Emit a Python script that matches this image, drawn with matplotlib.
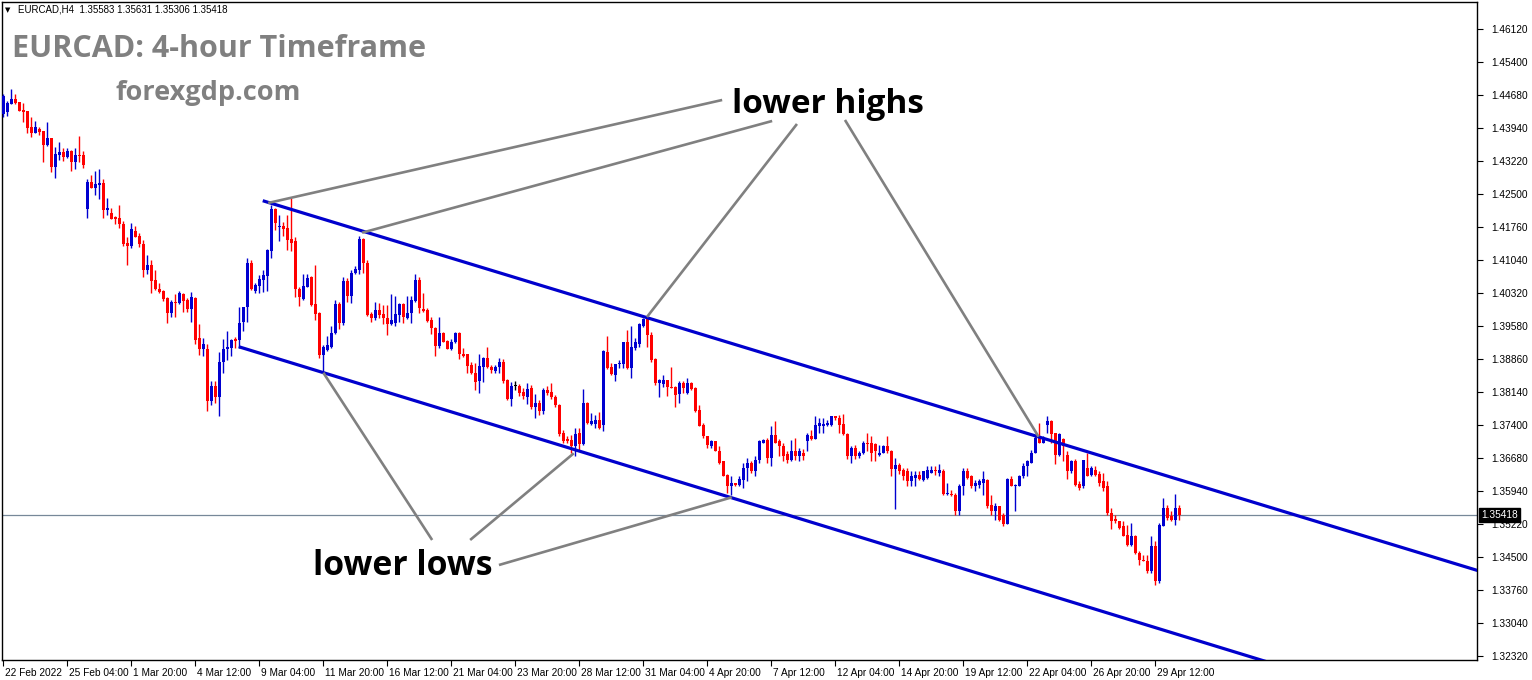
import numpy as np
import matplotlib
matplotlib.use("Agg")
import matplotlib.pyplot as plt
from matplotlib import transforms

# ---------------- data (EURCAD H4, 22 Feb 2022 12:00 .. 29 Apr 2022) ----------------
opens = [
    1.4425, 1.4430, 1.4447, 1.4458, 1.4452, 1.4434, 1.4432, 1.4397, 1.4383, 1.4392,
    1.4388, 1.4357, 1.4372, 1.4309, 1.4335, 1.4342, 1.4331, 1.4344, 1.4320, 1.4335,
    1.4335, 1.4216, 1.4276, 1.4262, 1.4269, 1.4273, 1.4214, 1.4207, 1.4199, 1.4196,
    1.4183, 1.4141, 1.4135, 1.4168, 1.4157, 1.4139, 1.4082, 1.4093, 1.4060, 1.4040,
    1.4036, 1.4020, 1.3987, 1.4012, 1.4009, 1.4029, 1.4016, 1.3996, 1.4020, 1.3932,
    1.3908, 1.3908, 1.3794, 1.3827, 1.3803, 1.3880, 1.3908, 1.3910, 1.3930, 1.3928,
    1.3968, 1.4001, 1.4097, 1.4036, 1.4047, 1.4060, 1.4069, 1.4124, 1.4216, 1.4177,
    1.4179, 1.4174, 1.4150, 1.4146, 1.4040, 1.4018, 1.4045, 1.4067, 1.4007, 1.3987,
    1.3895, 1.3906, 1.3913, 1.3943, 1.4007, 1.3965, 1.4058, 1.4025, 1.4075, 1.4082,
    1.4150, 1.4097, 1.3985, 1.3976, 1.3994, 1.3985, 1.3976, 1.3963, 1.3965, 1.3983,
    1.4007, 1.3976, 1.3987, 1.4014, 1.4060, 1.3996, 1.3994, 1.3972, 1.3954, 1.3915,
    1.3943, 1.3926, 1.3908, 1.3924, 1.3943, 1.3897, 1.3897, 1.3873, 1.3855, 1.3838,
    1.3869, 1.3888, 1.3869, 1.3860, 1.3869, 1.3880, 1.3840, 1.3798, 1.3827, 1.3827,
    1.3814, 1.3803, 1.3822, 1.3781, 1.3789, 1.3772, 1.3818, 1.3814, 1.3803, 1.3785,
    1.3723, 1.3710, 1.3708, 1.3693, 1.3723, 1.3699, 1.3789, 1.3743, 1.3743, 1.3752,
    1.3741, 1.3902, 1.3869, 1.3851, 1.3875, 1.3875, 1.3924, 1.3866, 1.3910, 1.3919,
    1.3959, 1.3974, 1.3939, 1.3886, 1.3833, 1.3831, 1.3840, 1.3825, 1.3825, 1.3809,
    1.3833, 1.3811, 1.3833, 1.3822, 1.3774, 1.3741, 1.3715, 1.3693, 1.3706, 1.3684,
    1.3660, 1.3631, 1.3605, 1.3613, 1.3609, 1.3620, 1.3646, 1.3657, 1.3638, 1.3664,
    1.3701, 1.3708, 1.3668, 1.3719, 1.3704, 1.3693, 1.3677, 1.3664, 1.3684, 1.3671,
    1.3679, 1.3706, 1.3717, 1.3710, 1.3739, 1.3737, 1.3741, 1.3741, 1.3759, 1.3756,
    1.3743, 1.3721, 1.3671, 1.3690, 1.3671, 1.3679, 1.3701, 1.3701, 1.3699, 1.3675,
    1.3679, 1.3695, 1.3684, 1.3644, 1.3653, 1.3642, 1.3640, 1.3618, 1.3624, 1.3631,
    1.3620, 1.3624, 1.3635, 1.3642, 1.3635, 1.3640, 1.3589, 1.3589, 1.3587, 1.3550,
    1.3605, 1.3638, 1.3627, 1.3607, 1.3609, 1.3613, 1.3620, 1.3565, 1.3552, 1.3561,
    1.3543, 1.3523, 1.3622, 1.3607, 1.3607, 1.3627, 1.3649, 1.3657, 1.3679, 1.3712,
    1.3701, 1.3741, 1.3748, 1.3723, 1.3675, 1.3710, 1.3675, 1.3638, 1.3662, 1.3611,
    1.3605, 1.3646, 1.3631, 1.3642, 1.3633, 1.3616, 1.3605, 1.3547, 1.3534, 1.3530,
    1.3517, 1.3499, 1.3477, 1.3495, 1.3459, 1.3444, 1.3442, 1.3418, 1.3475, 1.3396,
    1.3519, 1.3558, 1.3541, 1.3532, 1.35583,
]
highs = [
    1.4469, 1.4454, 1.4480, 1.4469, 1.4452, 1.4449, 1.4432, 1.4419, 1.4410, 1.4397,
    1.4388, 1.4408, 1.4372, 1.4353, 1.4364, 1.4350, 1.4350, 1.4346, 1.4350, 1.4377,
    1.4344, 1.4282, 1.4291, 1.4300, 1.4304, 1.4282, 1.4240, 1.4218, 1.4201, 1.4225,
    1.4190, 1.4155, 1.4185, 1.4179, 1.4163, 1.4148, 1.4115, 1.4104, 1.4082, 1.4053,
    1.4038, 1.4023, 1.4016, 1.4029, 1.4036, 1.4031, 1.4020, 1.4034, 1.4023, 1.3963,
    1.3932, 1.3919, 1.3838, 1.3838, 1.3902, 1.3930, 1.3948, 1.3930, 1.3935, 1.4001,
    1.4001, 1.4108, 1.4104, 1.4053, 1.4071, 1.4082, 1.4128, 1.4225, 1.4218, 1.4203,
    1.4188, 1.4203, 1.4240, 1.4155, 1.4045, 1.4073, 1.4073, 1.4069, 1.4093, 1.3990,
    1.3917, 1.3937, 1.3959, 1.4016, 1.4012, 1.4067, 1.4064, 1.4082, 1.4091, 1.4157,
    1.4152, 1.4104, 1.3990, 1.4012, 1.4009, 1.4005, 1.4005, 1.4029, 1.4025, 1.4009,
    1.4009, 1.4025, 1.4025, 1.4073, 1.4067, 1.4031, 1.3998, 1.3979, 1.3957, 1.3979,
    1.3946, 1.3928, 1.3930, 1.3946, 1.3946, 1.3910, 1.3897, 1.3880, 1.3877, 1.3897,
    1.3891, 1.3913, 1.3873, 1.3873, 1.3888, 1.3886, 1.3842, 1.3836, 1.3838, 1.3831,
    1.3822, 1.3833, 1.3829, 1.3809, 1.3796, 1.3822, 1.3827, 1.3833, 1.3807, 1.3787,
    1.3730, 1.3717, 1.3719, 1.3734, 1.3734, 1.3820, 1.3792, 1.3767, 1.3763, 1.3770,
    1.3906, 1.3937, 1.3877, 1.3875, 1.3884, 1.3924, 1.3950, 1.3959, 1.3932, 1.3965,
    1.3976, 1.3976, 1.3946, 1.3888, 1.3842, 1.3851, 1.3840, 1.3869, 1.3827, 1.3838,
    1.3838, 1.3844, 1.3836, 1.3825, 1.3785, 1.3745, 1.3715, 1.3708, 1.3706, 1.3693,
    1.3662, 1.3633, 1.3627, 1.3613, 1.3627, 1.3657, 1.3668, 1.3662, 1.3671, 1.3708,
    1.3710, 1.3712, 1.3737, 1.3750, 1.3710, 1.3701, 1.3682, 1.3708, 1.3712, 1.3690,
    1.3688, 1.3723, 1.3730, 1.3761, 1.3756, 1.3756, 1.3752, 1.3761, 1.3761, 1.3763,
    1.3765, 1.3723, 1.3693, 1.3697, 1.3682, 1.3704, 1.3723, 1.3715, 1.3701, 1.3697,
    1.3697, 1.3715, 1.3686, 1.3668, 1.3657, 1.3646, 1.3646, 1.3638, 1.3638, 1.3638,
    1.3640, 1.3649, 1.3651, 1.3649, 1.3655, 1.3644, 1.3613, 1.3598, 1.3591, 1.3611,
    1.3646, 1.3646, 1.3631, 1.3620, 1.3622, 1.3638, 1.3622, 1.3587, 1.3569, 1.3563,
    1.3547, 1.3624, 1.3627, 1.3611, 1.3631, 1.3657, 1.3664, 1.3686, 1.3715, 1.3745,
    1.3717, 1.3759, 1.3752, 1.3723, 1.3723, 1.3712, 1.3682, 1.3664, 1.3666, 1.3616,
    1.3664, 1.3679, 1.3649, 1.3649, 1.3638, 1.3635, 1.3616, 1.3558, 1.3543, 1.3530,
    1.3528, 1.3521, 1.3525, 1.3499, 1.3462, 1.3455, 1.3455, 1.3495, 1.3484, 1.3525,
    1.3580, 1.3565, 1.3550, 1.3589, 1.35631,
]
lows = [
    1.4419, 1.4421, 1.4447, 1.4447, 1.4432, 1.4408, 1.4383, 1.4375, 1.4383, 1.4379,
    1.4320, 1.4355, 1.4298, 1.4284, 1.4324, 1.4322, 1.4328, 1.4300, 1.4304, 1.4320,
    1.4306, 1.4196, 1.4262, 1.4247, 1.4238, 1.4196, 1.4203, 1.4194, 1.4183, 1.4174,
    1.4135, 1.4093, 1.4130, 1.4155, 1.4133, 1.4067, 1.4073, 1.4031, 1.4038, 1.4031,
    1.4014, 1.3965, 1.3979, 1.3979, 1.4007, 1.3990, 1.3990, 1.3968, 1.3919, 1.3895,
    1.3893, 1.3772, 1.3785, 1.3789, 1.3761, 1.3855, 1.3884, 1.3893, 1.3910, 1.3910,
    1.3948, 1.3968, 1.4038, 1.4031, 1.4031, 1.4034, 1.4036, 1.4108, 1.4170, 1.4146,
    1.4157, 1.4126, 1.4124, 1.4023, 1.4003, 1.4016, 1.4045, 1.4003, 1.3972, 1.3888,
    1.3855, 1.3904, 1.3910, 1.3941, 1.3952, 1.3961, 1.4012, 1.4009, 1.4073, 1.4073,
    1.4075, 1.3981, 1.3968, 1.3972, 1.3976, 1.3963, 1.3939, 1.3961, 1.3959, 1.3968,
    1.3965, 1.3974, 1.3965, 1.4012, 1.3987, 1.3990, 1.3968, 1.3941, 1.3893, 1.3910,
    1.3924, 1.3908, 1.3906, 1.3921, 1.3886, 1.3891, 1.3855, 1.3853, 1.3818, 1.3811,
    1.3836, 1.3866, 1.3855, 1.3855, 1.3855, 1.3833, 1.3796, 1.3783, 1.3818, 1.3805,
    1.3798, 1.3787, 1.3776, 1.3756, 1.3763, 1.3765, 1.3807, 1.3798, 1.3781, 1.3717,
    1.3701, 1.3701, 1.3679, 1.3671, 1.3682, 1.3697, 1.3743, 1.3741, 1.3734, 1.3732,
    1.3728, 1.3864, 1.3851, 1.3838, 1.3866, 1.3866, 1.3864, 1.3844, 1.3906, 1.3913,
    1.3957, 1.3913, 1.3880, 1.3829, 1.3803, 1.3825, 1.3805, 1.3822, 1.3781, 1.3789,
    1.3811, 1.3809, 1.3818, 1.3770, 1.3737, 1.3712, 1.3690, 1.3690, 1.3682, 1.3655,
    1.3627, 1.3591, 1.3587, 1.3607, 1.3605, 1.3602, 1.3616, 1.3635, 1.3629, 1.3657,
    1.3701, 1.3657, 1.3649, 1.3701, 1.3673, 1.3660, 1.3657, 1.3662, 1.3664, 1.3660,
    1.3664, 1.3682, 1.3708, 1.3710, 1.3723, 1.3723, 1.3737, 1.3737, 1.3752, 1.3723,
    1.3719, 1.3666, 1.3657, 1.3666, 1.3668, 1.3677, 1.3682, 1.3660, 1.3660, 1.3673,
    1.3679, 1.3679, 1.3627, 1.3556, 1.3633, 1.3620, 1.3607, 1.3607, 1.3607, 1.3620,
    1.3618, 1.3622, 1.3635, 1.3631, 1.3629, 1.3587, 1.3587, 1.3583, 1.3543, 1.3543,
    1.3587, 1.3622, 1.3602, 1.3596, 1.3602, 1.3587, 1.3558, 1.3543, 1.3532, 1.3530,
    1.3517, 1.3523, 1.3605, 1.3550, 1.3605, 1.3624, 1.3627, 1.3657, 1.3679, 1.3701,
    1.3701, 1.3723, 1.3701, 1.3655, 1.3671, 1.3660, 1.3622, 1.3635, 1.3607, 1.3598,
    1.3602, 1.3627, 1.3629, 1.3629, 1.3605, 1.3594, 1.3543, 1.3512, 1.3525, 1.3512,
    1.3495, 1.3475, 1.3475, 1.3457, 1.3433, 1.3440, 1.3415, 1.3415, 1.3389, 1.3393,
    1.3517, 1.3532, 1.3528, 1.3521, 1.35306,
]
closes = [
    1.4465, 1.4449, 1.4458, 1.4449, 1.4432, 1.4430, 1.4394, 1.4383, 1.4397, 1.4386,
    1.4357, 1.4372, 1.4309, 1.4337, 1.4342, 1.4331, 1.4344, 1.4320, 1.4335, 1.4333,
    1.4313, 1.4276, 1.4262, 1.4271, 1.4273, 1.4214, 1.4218, 1.4194, 1.4194, 1.4183,
    1.4139, 1.4135, 1.4172, 1.4155, 1.4139, 1.4082, 1.4093, 1.4058, 1.4040, 1.4034,
    1.4018, 1.3987, 1.4012, 1.4009, 1.4031, 1.4014, 1.3996, 1.4023, 1.3928, 1.3908,
    1.3919, 1.3794, 1.3827, 1.3803, 1.3880, 1.3908, 1.3913, 1.3928, 1.3926, 1.3965,
    1.4001, 1.4097, 1.4040, 1.4049, 1.4062, 1.4071, 1.4126, 1.4216, 1.4185, 1.4179,
    1.4172, 1.4148, 1.4141, 1.4040, 1.4023, 1.4047, 1.4064, 1.4005, 1.3985, 1.3895,
    1.3913, 1.3917, 1.3943, 1.4007, 1.3965, 1.4058, 1.4025, 1.4075, 1.4084, 1.4150,
    1.4097, 1.3983, 1.3976, 1.3994, 1.3983, 1.3976, 1.3963, 1.3972, 1.3985, 1.4007,
    1.3979, 1.3987, 1.4016, 1.4060, 1.3998, 1.3992, 1.3970, 1.3954, 1.3915, 1.3943,
    1.3924, 1.3908, 1.3924, 1.3943, 1.3897, 1.3893, 1.3871, 1.3855, 1.3836, 1.3871,
    1.3888, 1.3869, 1.3862, 1.3869, 1.3880, 1.3838, 1.3798, 1.3827, 1.3827, 1.3811,
    1.3805, 1.3820, 1.3781, 1.3789, 1.3772, 1.3818, 1.3811, 1.3803, 1.3785, 1.3721,
    1.3704, 1.3706, 1.3693, 1.3721, 1.3699, 1.3789, 1.3745, 1.3748, 1.3752, 1.3734,
    1.3904, 1.3866, 1.3853, 1.3875, 1.3877, 1.3924, 1.3866, 1.3913, 1.3924, 1.3963,
    1.3974, 1.3939, 1.3884, 1.3833, 1.3840, 1.3840, 1.3825, 1.3822, 1.3807, 1.3833,
    1.3822, 1.3833, 1.3820, 1.3772, 1.3739, 1.3715, 1.3697, 1.3704, 1.3682, 1.3657,
    1.3629, 1.3605, 1.3613, 1.3609, 1.3622, 1.3646, 1.3657, 1.3638, 1.3664, 1.3704,
    1.3708, 1.3668, 1.3719, 1.3701, 1.3693, 1.3673, 1.3664, 1.3682, 1.3671, 1.3682,
    1.3671, 1.3719, 1.3710, 1.3741, 1.3745, 1.3743, 1.3745, 1.3759, 1.3756, 1.3741,
    1.3721, 1.3671, 1.3690, 1.3671, 1.3679, 1.3701, 1.3699, 1.3679, 1.3682, 1.3679,
    1.3695, 1.3682, 1.3644, 1.3653, 1.3640, 1.3629, 1.3618, 1.3627, 1.3631, 1.3622,
    1.3638, 1.3642, 1.3642, 1.3638, 1.3642, 1.3589, 1.3591, 1.3587, 1.3550, 1.3607,
    1.3638, 1.3624, 1.3607, 1.3613, 1.3616, 1.3622, 1.3561, 1.3552, 1.3563, 1.3532,
    1.3523, 1.3622, 1.3607, 1.3609, 1.3629, 1.3649, 1.3660, 1.3679, 1.3712, 1.3701,
    1.3712, 1.3748, 1.3721, 1.3675, 1.3721, 1.3693, 1.3638, 1.3662, 1.3609, 1.3602,
    1.3664, 1.3627, 1.3646, 1.3631, 1.3613, 1.3602, 1.3547, 1.3530, 1.3530, 1.3514,
    1.3497, 1.3477, 1.3495, 1.3459, 1.3444, 1.3440, 1.3418, 1.3475, 1.3396, 1.3521,
    1.3558, 1.3536, 1.3532, 1.3558, 1.35418,
]

x_tick_labels = ["22 Feb 2022", "25 Feb 04:00", "1 Mar 20:00", "4 Mar 12:00", "9 Mar 04:00",
                 "11 Mar 20:00", "16 Mar 12:00", "21 Mar 04:00", "23 Mar 20:00", "28 Mar 12:00",
                 "31 Mar 04:00", "4 Apr 20:00", "7 Apr 12:00", "12 Apr 04:00", "14 Apr 20:00",
                 "19 Apr 12:00", "22 Apr 04:00", "26 Apr 20:00", "29 Apr 12:00"]
bars_per_label = 16
y_tick_labels = ["1.46120", "1.45400", "1.44680", "1.43940", "1.43220", "1.42500", "1.41760",
                 "1.41040", "1.40320", "1.39580", "1.38860", "1.38140", "1.37400", "1.36680",
                 "1.35940", "1.35220", "1.34500", "1.33760", "1.33040", "1.32320"]

symbol = "EURCAD,H4"
title = "EURCAD: 4-hour Timeframe"
site = "forexgdp.com"

# drawn objects: (bar index, price) anchors
upper_channel = [(64.85, 1.42340), (259.2, 1.37131)]
lower_channel = [(58.85, 1.39126), (181.7, 1.35811)]
highs_callouts = [((66.2, 1.42290), (179.7, 1.44557)),
                  ((89.7, 1.41636), (192.2, 1.44095)),
                  ((160.9, 1.39780), (198.4, 1.44029)),
                  ((258.8, 1.37145), (210.4, 1.44117))]
lows_callouts = [((80.0, 1.38554), (107.2, 1.34872)),
                 ((142.6, 1.36780), (116.7, 1.34872)),
                 ((182.1, 1.35811), (123.9, 1.34321))]

# ---------------- figure ----------------
W, H = 1532, 680
DPI = 100
fig = plt.figure(figsize=(W / DPI, H / DPI), dpi=DPI)
fig.patch.set_facecolor("white")
L_px, R_px, T_px, B_px = 2, 1477, 2, 660
ax = fig.add_axes([L_px / W, 1 - B_px / H, (R_px - L_px) / W, (B_px - T_px) / H])
ax.set_facecolor("white")

BULL, BEAR, DOJI = "#0000D0", "#FF0000", "#000000"
o = np.array(opens); h = np.array(highs); l = np.array(lows); c = np.array(closes)
n = len(c)
x = np.arange(n)
cols = np.where(c > o, BULL, np.where(c < o, BEAR, DOJI))
ax.vlines(x, l, h, colors=cols, lw=1.0, zorder=3)
body_lo = np.minimum(o, c)
body_h = np.maximum(np.abs(c - o), 0.00012)
ax.bar(x, body_h, bottom=body_lo, width=0.62, color=cols, lw=0, zorder=4)

ax.set_xlim(-0.33, 368.4)
ax.set_ylim(1.32230, 1.46714)

# channel rays
x_far = 420
for (x1, y1), (x2, y2) in (upper_channel, lower_channel):
    slope = (y2 - y1) / (x2 - x1)
    ax.plot([x1, x_far], [y1, y1 + slope * (x_far - x1)], color="#0000CD", lw=2.3,
            solid_capstyle="butt", zorder=5)

# callout lines
for (p1, p2) in highs_callouts + lows_callouts:
    ax.plot([p1[0], p2[0]], [p1[1], p2[1]], color="#808080", lw=1.9,
            solid_capstyle="butt", zorder=6, clip_on=False)

# bid line
last = closes[-1]
ax.axhline(last, color="#778899", lw=0.9, zorder=2)

# axes styling
TICKFONT = ["Liberation Sans", "DejaVu Sans"]
for s in ax.spines.values():
    s.set_color("black")
    s.set_linewidth(1.0)
ax.yaxis.tick_right()
ax.set_yticks(np.linspace(float(y_tick_labels[0]), float(y_tick_labels[-1]), len(y_tick_labels)))
ax.set_yticklabels(y_tick_labels, family=TICKFONT)
ax.tick_params(axis="y", direction="out", length=4, width=0.8, labelsize=7.3, pad=6,
               colors="black")
ax.set_xticks(np.arange(len(x_tick_labels)) * bars_per_label)
ax.set_xticklabels(x_tick_labels, ha="left", family=TICKFONT)
ax.tick_params(axis="x", direction="out", length=4, width=0.8, labelsize=7.3, pad=1.5,
               colors="black")
off = transforms.ScaledTranslation(2 / DPI, 0, fig.dpi_scale_trans)
for lab in ax.get_xticklabels():
    lab.set_transform(lab.get_transform() + off)

# current price box
btr = transforms.blended_transform_factory(ax.transAxes, ax.transData)
ax.text(1.0 + 4 / (R_px - L_px), last, f"{last:.5f}", transform=btr, ha="left", va="center",
        color="white", fontsize=7.3, zorder=10, clip_on=False, family=TICKFONT,
        bbox=dict(boxstyle="square,pad=0.2", fc="black", ec="black"))

def fx(px):
    return px / W

def fy(py):
    return 1 - py / H

# header
fig.text(fx(5), fy(10), "\u25BC", fontsize=5, va="center", ha="left", color="black")
fig.text(fx(18), fy(10), f"{symbol}  {opens[-1]:.5f} {highs[-1]:.5f} {lows[-1]:.5f} {closes[-1]:.5f}",
         fontsize=7, va="center", ha="left", color="black", family=TICKFONT)

BOLDFONT = ["Open Sans", "DejaVu Sans"]
fig.text(fx(12), fy(57), title, fontsize=22, fontweight="bold", color="#808080",
         family=BOLDFONT, va="baseline", ha="left")
fig.text(fx(115), fy(100), site, fontsize=19.5, fontweight="bold", color="#808080",
         family=BOLDFONT, va="baseline", ha="left")
fig.text(fx(732), fy(113), "lower highs", fontsize=24, fontweight="bold", color="black",
         family=BOLDFONT, va="baseline", ha="left")
fig.text(fx(313), fy(575), "lower lows", fontsize=24.3, fontweight="bold", color="black",
         family=BOLDFONT, va="baseline", ha="left")

fig.savefig("out.png", dpi=DPI, facecolor="white")
